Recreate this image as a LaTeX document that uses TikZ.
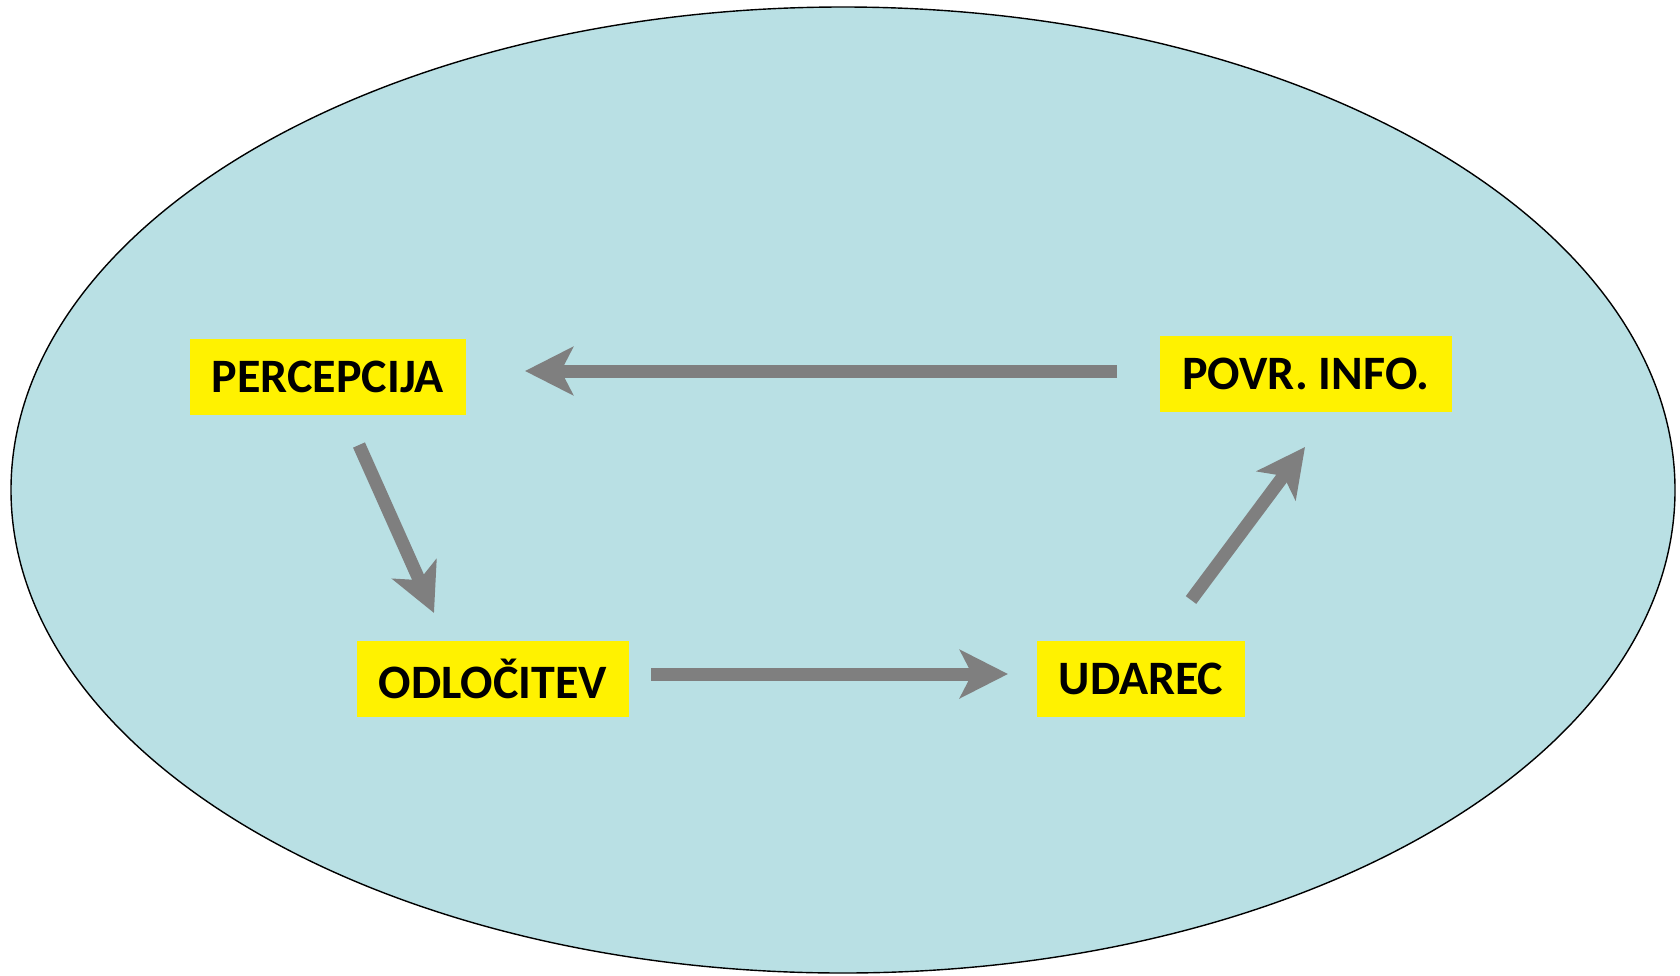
\documentclass[tikz,border=0pt]{standalone}
\usepackage{fontspec}
\setmainfont{Carlito}
\usetikzlibrary{arrows.meta,positioning,calc}
\definecolor{ovalblue}{RGB}{185,224,228}
\definecolor{arrowgray}{RGB}{127,127,127}

\begin{document}
\begin{tikzpicture}[x=0.5pt,y=-0.5pt,
        stage/.style={fill=yellow,inner xsep=11pt,inner ysep=0pt,minimum height=38pt,
            font=\fontsize{24}{28}\selectfont\bfseries},
        flow/.style={draw=arrowgray,line width=6.5pt,
            -{Stealth[length=24pt,width=24pt,inset=6pt]}}]
        \useasboundingbox (0,0) rectangle (1680,975);

        %%%% Background =================================
        \draw[fill=ovalblue,line width=0.7pt] (843,490) ellipse [x radius=416pt,y radius=241.5pt];

        %%%% Stages =====================================
        \node[stage] (perc) at (328,377) {PERCEPCIJA};
        \node[stage] (odl) at (493,679) {ODLOČITEV};
        \node[stage] (udar) at (1141,679) {UDAREC};
        \node[stage] (povr) at (1306,374) {POVR. INFO.};

        % Arrow ends
        \coordinate (povrout) at (1117,371);
        \coordinate (percin) at (525,371);
        \coordinate (percout) at (359,445);
        \coordinate (odlin) at (434,613);
        \coordinate (odlout) at (651,674);
        \coordinate (udarin) at (1008,674);
        \coordinate (udarout) at (1191,600);
        \coordinate (povrin) at (1305,447);

        % Arrows
        \draw[flow] (povrout) -- (percin);
        \draw[flow] (percout) -- (odlin);
        \draw[flow] (odlout) -- (udarin);
        \draw[flow] (udarout) -- (povrin);
\end{tikzpicture}
\end{document}
